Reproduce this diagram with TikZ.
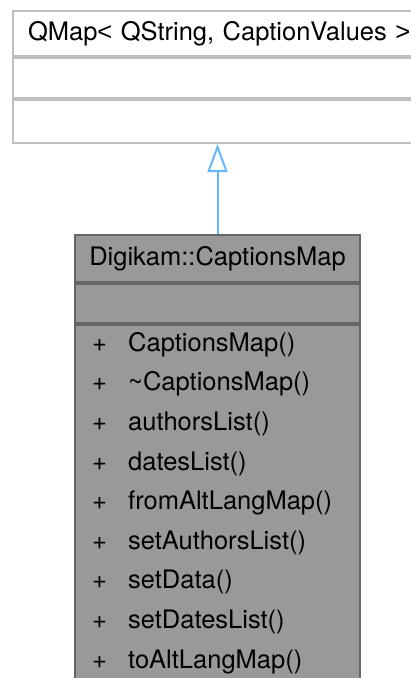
\documentclass[tikz,border=0pt]{standalone}
\usepackage{fontspec}
\setmainfont{TeX Gyre Heros}
\newfontfamily\anglefont{Liberation Sans}
\usepackage{xcolor}
\usepackage{tikz}
\usetikzlibrary{arrows.meta,positioning}

\definecolor{baseedge}{HTML}{BFBFBF}
\definecolor{clsfill}{HTML}{999999}
\definecolor{clsedge}{HTML}{666666}
\definecolor{inherit}{HTML}{63B8FF}

\begin{document}
\begin{tikzpicture}[
  x=1pt, y=-1pt,
  part/.style={draw, line width=2pt, anchor=north west, inner sep=0pt,
               font=\fontsize{25.5}{30}\selectfont},
  base/.style={part, draw=baseedge, fill=white, minimum width=420pt},
  cls/.style={part, draw=clsedge, fill=clsfill, minimum width=285pt},
  member/.style={anchor=north west, inner sep=0pt, text height=19pt, text depth=20.2pt,
                 font=\fontsize{25.5}{30}\selectfont},
  arrow/.style={draw=inherit, line width=2pt,
                -{Triangle[open, length=28pt, width=20pt, line width=2pt]}}
]
  \useasboundingbox (0,0) rectangle (411,678);

  % Top: base class
  \node[base, minimum height=45pt, text width=390pt, inner xsep=15pt, align=left]
    (basetitle) at (12,10) {QMap{\anglefont<} QString, CaptionValues {\anglefont>}};
  \node[base, minimum height=40pt, below=0pt of basetitle.south west, anchor=north west] (baseattr) {};
  \node[base, minimum height=43pt, below=0pt of baseattr.south west, anchor=north west] (baseops) {};

  % Bottom: derived class
  \node[cls, minimum height=47pt] (clstitle) at (74,234) {Digikam::CaptionsMap};
  \node[cls, minimum height=39pt, below=0pt of clstitle.south west, anchor=north west] (clsattr) {};
  \node[cls, minimum height=380pt, below=0pt of clsattr.south west, anchor=north west] (clsops) {};

  % Members
  \node[member] (m1) at (92,332) {\makebox[36pt][l]{+}CaptionsMap()};
  \node[member, below=0pt of m1.south west, anchor=north west] (m2) {\makebox[36pt][l]{+}\textasciitilde CaptionsMap()};
  \node[member, below=0pt of m2.south west, anchor=north west] (m3) {\makebox[36pt][l]{+}authorsList()};
  \node[member, below=0pt of m3.south west, anchor=north west] (m4) {\makebox[36pt][l]{+}datesList()};
  \node[member, below=0pt of m4.south west, anchor=north west] (m5) {\makebox[36pt][l]{+}fromAltLangMap()};
  \node[member, below=0pt of m5.south west, anchor=north west] (m6) {\makebox[36pt][l]{+}setAuthorsList()};
  \node[member, below=0pt of m6.south west, anchor=north west] (m7) {\makebox[36pt][l]{+}setData()};
  \node[member, below=0pt of m7.south west, anchor=north west] (m8) {\makebox[36pt][l]{+}setDatesList()};
  \node[member, below=0pt of m8.south west, anchor=north west] (m9) {\makebox[36pt][l]{+}toAltLangMap()};

  % Inheritance
  \draw[arrow] (clstitle.north) -- (clstitle.north |- baseops.south);
\end{tikzpicture}
\end{document}
